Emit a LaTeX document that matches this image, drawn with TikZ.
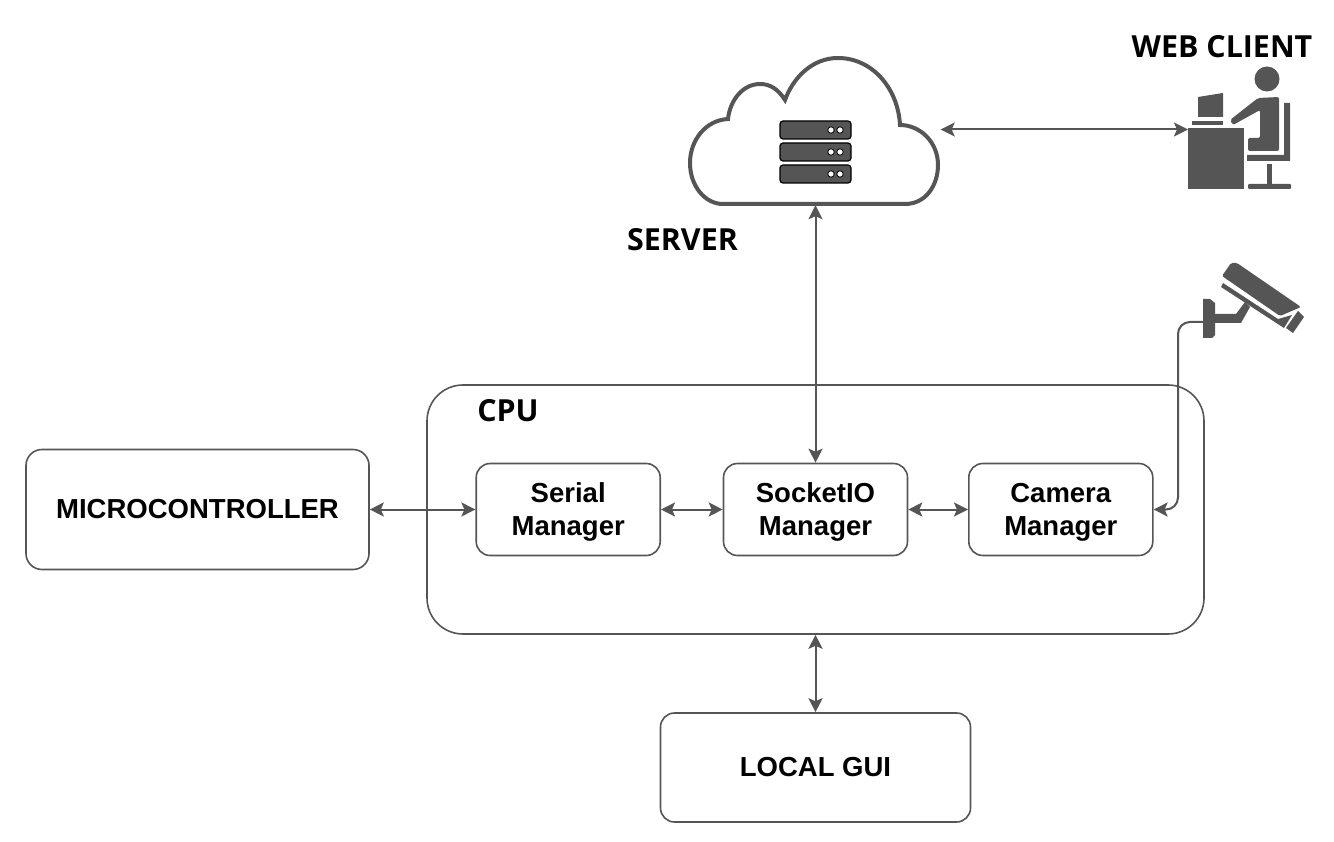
\documentclass[tikz,border=0pt]{standalone}
\usepackage{fontspec}
\setmainfont{Liberation Sans}
\newfontfamily\opensans{Open Sans}
\usepackage{xcolor}
\usetikzlibrary{arrows.meta,positioning}
\definecolor{SysGray}{HTML}{555555}

\begin{document}
\begin{tikzpicture}[
    x=1pt, y=-1pt,
    box/.style={rounded corners=14pt, draw=SysGray, line width=1.6pt, align=center, inner sep=0pt, font=\fontsize{27.5}{33}\selectfont\bfseries},
    manager/.style={box, minimum width=184pt, minimum height=92pt, text depth=0pt},
    title/.style={font=\fontsize{30.4}{36}\opensans\bfseries, inner sep=0pt},
    icon/.style={fill=SysGray, draw=none},
    arrow/.style={{Stealth[length=14pt,width=14pt,inset=3pt]}-{Stealth[length=14pt,width=14pt,inset=3pt]}, draw=SysGray, line width=2pt},
  ]
    \useasboundingbox (0,0) rectangle (1334,842);

    % ---- CPU ----
    \node[box, rounded corners=36pt, minimum width=777pt, minimum height=249pt] (cpu) at (815.5,509.5) {};
    \node[title] (cpulabel) at (508,411) {CPU};
    \node[manager] (socket) at (815.5,509.5) {SocketIO\\Manager};
    \node[manager, left=61.7pt of socket] (serial) {Serial\\Manager};
    \node[manager, right=59.7pt of socket] (camman) {Camera\\Manager};

    % ---- MICROCONTROLLER, LOCAL GUI ----
    \node[box, rounded corners=16pt, minimum width=343pt, minimum height=120pt] (micro) at (197.5,509.5) {MICROCONTROLLER};
    \node[box, minimum width=310pt, minimum height=109pt] (gui) at (815.5,767.5) {LOCAL GUI};

    % ---- server ----
    \node[minimum width=250pt, minimum height=151pt, inner sep=0pt] (cloud) at (815.5,129.5) {};
    \draw[draw=SysGray, line width=4pt]
      (723,204) -- (905,204)
      .. controls (926,204) and (938,185) .. (938,165)
      .. controls (938,142) and (920,125) .. (900,125)
      .. controls (898,88) and (872,58) .. (838,58)
      .. controls (812,58) and (793,78) .. (785,100)
      .. controls (778,89) and (770,84) .. (760,84)
      .. controls (743,84) and (730,100) .. (728,119)
      .. controls (706,120) and (690,140) .. (690,163)
      .. controls (690,186) and (705,204) .. (723,204) -- cycle;
    \foreach \y in {121,143,165} {
      \draw[fill=SysGray, draw=black, line width=1.2pt, rounded corners=3pt] (780,\y) rectangle (851,\y+18);
      \draw[fill=white, draw=black, line width=0.8pt] (831,\y+9) circle (3.2pt);
      \draw[fill=white, draw=black, line width=0.8pt] (840,\y+9) circle (3.2pt);
    }
    \node[title] (serverlabel) at (682.5,240) {SERVER};

    % ---- web client ----
    \node[title] (weblabel) at (1222,47) {WEB CLIENT};
    \coordinate (desk) at (1188,129.5);
    \fill[icon] (1267,79) circle (12.5pt);
    \fill[icon] (1198,97) -- (1223,93) -- (1223,117) -- (1198,117) -- cycle;
    \fill[icon] (1192,121) rectangle (1223,125);
    \fill[icon] (1188,128) rectangle (1244,189);
    \fill[icon, rounded corners=2pt] (1230,120) -- (1258,98) -- (1279,97) -- (1279,151) -- (1248,151) -- (1248,138) -- (1260,138) -- (1260,110) -- (1233,125) -- cycle;
    \fill[icon] (1284,103) -- (1290,103) -- (1290,161) -- (1247,161) -- (1247,155) -- (1284,155) -- cycle;
    \fill[icon] (1267,164) rectangle (1272,185);
    \fill[icon, rounded corners=1pt] (1248,184) rectangle (1291,189);

    % ---- camera ----
    \coordinate (mount) at (1203,322);
    \fill[icon, rounded corners=1.5pt] (1222,276) -- (1231,263) -- (1237,263) -- (1301,307) -- (1280,316) -- cycle;
    \fill[icon] (1221,287) -- (1223,283) -- (1278,319) -- (1292,315) -- (1284,328) -- cycle;
    \fill[icon] (1298,311) -- (1304,317) -- (1293,333) -- (1286,328) -- cycle;
    \fill[icon] (1245,302) -- (1250,307) -- (1241,323) -- (1215,323) -- (1215,314) -- (1236,314) -- cycle;
    \fill[icon] (1203,299) -- (1210,299) -- (1215,303) -- (1215,335) -- (1212,338) -- (1203,338) -- cycle;

    % ---- arrows ----
    \draw[arrow] (cloud.east) -- (desk);
    \draw[arrow] (cloud.south) -- (socket.north);
    \draw[arrow] (micro.east) -- (serial.west);
    \draw[arrow] (serial.east) -- (socket.west);
    \draw[arrow] (socket.east) -- (camman.west);
    \draw[arrow] (cpu.south) -- (gui.north);
    \draw[arrow, rounded corners=12pt, {Stealth[length=14pt,width=14pt,inset=3pt]}-] (camman.east) -- (1178,509.5) -- (1178,322) -- (mount);
\end{tikzpicture}
\end{document}
